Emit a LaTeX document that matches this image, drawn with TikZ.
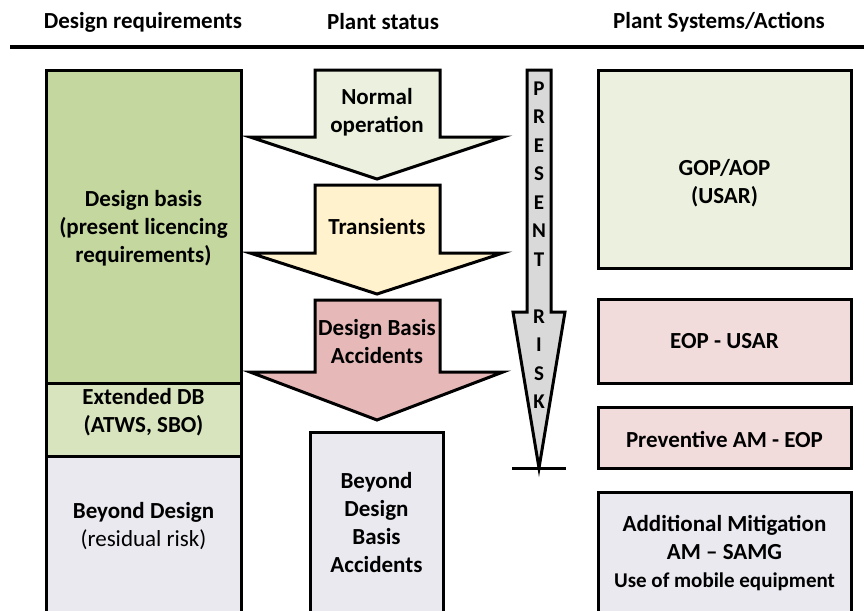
\documentclass[tikz,border=0pt]{standalone}
\usepackage{fontspec}
\setmainfont{Carlito}
\usepackage{tikz}
\usetikzlibrary{positioning}
\definecolor{dbgreen}{RGB}{196,215,158}
\definecolor{extgreen}{RGB}{215,228,189}
\definecolor{lilac}{RGB}{235,233,240}
\definecolor{palegreen}{RGB}{235,241,222}
\definecolor{paleyellow}{RGB}{255,242,204}
\definecolor{dbared}{RGB}{230,185,184}
\definecolor{palered}{RGB}{242,220,219}
\definecolor{riskgray}{RGB}{217,217,217}

\tikzset{
  box/.style={draw=black, line width=3pt},
  blockarrow/.style={draw=black, line width=3pt, line join=miter},
  lbl/.style={align=center, inner sep=0pt, font=\bfseries\fontsize{23}{28}\selectfont},
  colhead/.style={inner sep=0pt, font=\bfseries\fontsize{23}{28}\selectfont},
}

\begin{document}
\begin{tikzpicture}[x=1pt, y=-1pt]
  \useasboundingbox (0,0) rectangle (864,610);
  \clip (0,0) rectangle (864,610);

  % column heads
  \node[colhead] (hreq) at (143,22) {Design requirements};
  \node[colhead] (hstat) at (383,22) {Plant status};
  \node[colhead] (hsys) at (719,22) {Plant Systems/Actions};
  \draw[line width=4pt] (10,47) -- (870,47);

  % design requirements
  \draw[box, fill=dbgreen] (46,70) rectangle (241,383);
  \draw[box, fill=extgreen] (46,383) rectangle (241,456);
  \draw[box, fill=lilac] (46,456) rectangle (241,650);
  \node[lbl] (basis) at (143.5,228) {Design basis\\(present licencing\\requirements)};
  \node[lbl] (extdb) at (143.5,412) {Extended DB\\(ATWS, SBO)};
  \node[lbl] (beyond) at (143.5,526) {Beyond Design\\{\mdseries (residual risk)}};

  % plant status
  \foreach \t/\w/\p/\c/\ty/\txt [count=\i] in {70/137/179/palegreen/112/{Normal\\operation},
      185/253/294/paleyellow/227/{Transients},
      300/372/420/dbared/342/{Design Basis\\Accidents}} {
    \draw[blockarrow, fill=\c] (315,\t) -- (440,\t) -- (440,\w) -- (503,\w)
      -- (377,\p) -- (250,\w) -- (315,\w) -- cycle;
    \node[lbl] (stat\i) at (377,\ty) {\txt};
  }
  \draw[box, fill=lilac] (310,432) rectangle (443,650);
  \node[lbl] (bdba) at (376.5,523) {Beyond\\Design\\Basis\\Accidents};

  % present risk
  \draw[blockarrow, fill=riskgray] (527,70) -- (551,70) -- (551,312) -- (565,312)
    -- (539,468) -- (513,312) -- (527,312) -- cycle;
  \draw[line width=3pt] (512,468) -- (566,468);
  \node[align=center, inner sep=0pt, font=\bfseries\fontsize{21}{28.5}\selectfont] (risk) at (539,245)
    {P\\R\\E\\S\\E\\N\\T\\\mbox{}\\R\\I\\S\\K};

  % plant systems / actions
  \draw[box, fill=palegreen] (598,70) rectangle (851,268);
  \draw[box, fill=palered] (598,299) rectangle (851,383);
  \draw[box, fill=palered] (598,407) rectangle (851,468);
  \draw[box, fill=lilac] (598,492) rectangle (851,650);
  \node[lbl] (gop) at (724.5,183) {GOP/AOP\\(USAR)};
  \node[lbl] (eop) at (724.5,341) {EOP - USAR};
  \node[lbl] (prev) at (724.5,439) {Preventive AM - EOP};
  \node[lbl] (addm) at (724.5,553) {Additional Mitigation\\AM -- SAMG\\{\fontsize{21}{26}\selectfont Use of mobile equipment}};
\end{tikzpicture}
\end{document}
